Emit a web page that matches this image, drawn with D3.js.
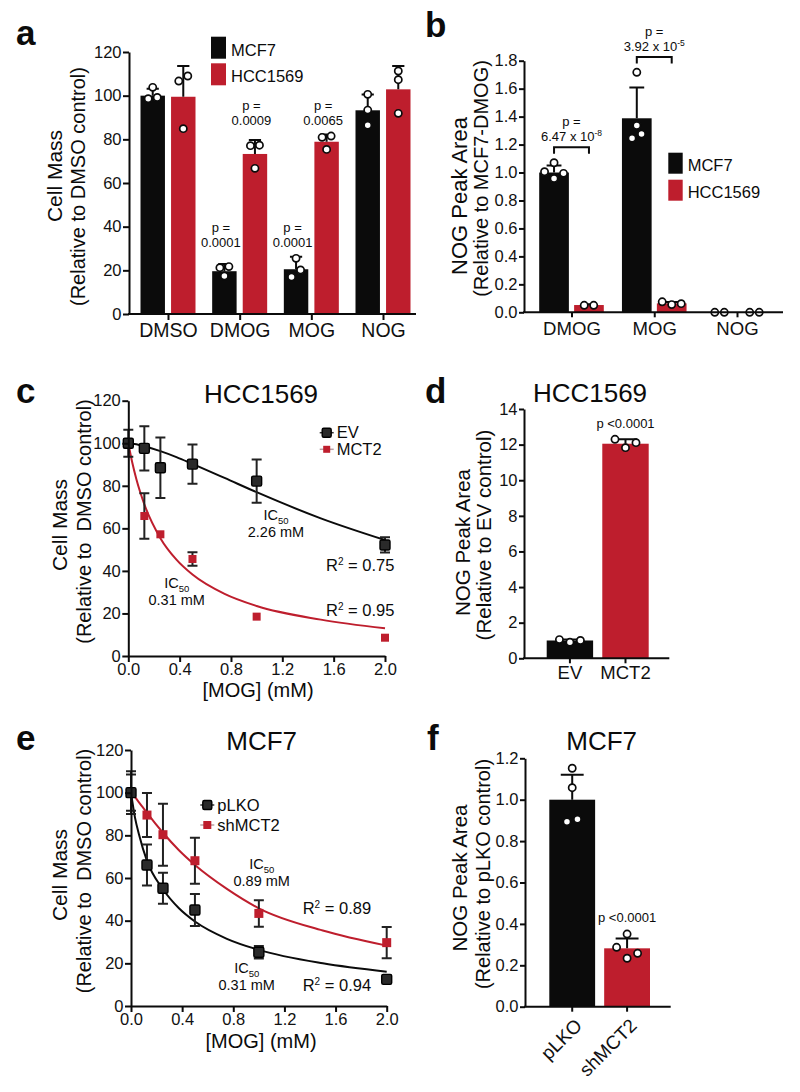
<!DOCTYPE html>
<html>
<head>
<meta charset="utf-8">
<script src="https://cdn.jsdelivr.net/npm/d3@7"></script>
<style>
body { margin: 0; background: #fff; }
svg text { font-family: "Liberation Sans", Arial, Helvetica, sans-serif; }
</style>
</head>
<body>
<div id="figure"></div>
<script>
// ---------- values ----------

// panel a: cell mass after 2-oxoglutarate ester treatment
var treatmentsA = ["DMSO", "DMOG", "MOG", "NOG"];
var cellLines = ["MCF7", "HCC1569"];
var massMCF7 = [100, 19.6, 20.5, 93.3];
var massHCC = [99.5, 73.3, 78.9, 102.9];
var sdMassMCF7 = [3.2, 3.3, 5.7, 7.2];
var sdMassHCC = [14.1, 6.4, 3.3, 10.7];
var dotsMassMCF7 = [[103.8, 98.6, 99.2], [17.4, 21.7, 21.2], [16.9, 25.5, 20.2], [100.6, 93.4, 86.4]];
var dotsMassHCC = [[109, 106.7, 84.9], [77.3, 77.1, 66.7], [81.5, 80.9, 75.4], [111.3, 107.3, 91.9]];
var pMassMCF7 = ["", "0.0001", "0.0001", ""];
var pMassHCC = ["", "0.0009", "0.0065", ""];
var massTicks = [0, 20, 40, 60, 80, 100, 120];

// panel b: intracellular NOG
var compoundsB = ["DMOG", "MOG", "NOG"];
var nogMCF7 = [1.0, 1.388, 0];
var nogHCC = [0.052, 0.064, 0];
var sdNogMCF7 = [0.05, 0.22, 0];
var sdNogHCC = [0.006, 0.01, 0];
var dotsNogMCF7 = [[1.006, 1.07, 0.958, 0.994], [1.245, 1.717, 1.337, 1.275], [0, 0]];
var dotsNogHCC = [[0.05, 0.05], [0.055, 0.075, 0.062], [0, 0]];
var pMantissaB = ["6.47", "3.92", ""];
var pExponentB = ["-8", "-5", ""];
var nogTicksB = [0, 0.2, 0.4, 0.6, 0.8, 1.0, 1.2, 1.4, 1.6, 1.8];

// panels c and e: MOG dose response
var dosesMOG = [0, 0.125, 0.25, 0.5, 1.0, 2.0];
var doseTicks = [0, 0.4, 0.8, 1.2, 1.6, 2.0];
var fitDoses = [0, 0.03125, 0.0625, 0.125, 0.25, 0.375, 0.5, 0.75, 1.0, 1.5, 2.0];

var massEV = [100, 97.6, 88.5, 90.2, 82.2, 52.2];
var sdEV = [6.3, 10.4, 14.2, 9.2, 10.2, 3.6];
var fitEV = [100, 99.8, 99.5, 98.6, 96.3, 93.5, 90.3, 83.7, 77, 64.7, 54.5];
var massMCT2 = [100, 65.8, 57.2, 45.6, 18.5, 8.6];
var sdMCT2 = [0, 10.7, 0, 3.2, 0, 0];
var fitMCT2 = [100, 90.8, 83.2, 71.3, 55.4, 45.3, 38.3, 29.2, 23.5, 17.1, 13];

var massPLKO = [100, 66.1, 55.2, 45, 25.2, 12.5];
var sdPLKO = [10, 9.6, 7.3, 7.5, 2.9, 0];
var fitPLKO = [100, 88.3, 80.4, 68, 54.7, 45.8, 39.6, 31.5, 26.3, 20, 16.1];
var massShMCT2 = [100, 89.5, 80.3, 68.1, 43.4, 29.7];
var sdShMCT2 = [8.5, 10.3, 14.5, 10.8, 6.2, 7.3];
var fitShMCT2 = [100, 97.9, 95.5, 90.5, 81.2, 73, 66.1, 54.9, 45.8, 35.4, 28.3];

// panel d: NOG after MCT2 overexpression
var vectorsD = ["EV", "MCT2"];
var nogD = [1.0, 12.05];
var sdNogD = [0.06, 0.25];
var dotsNogD = [[1.05, 0.9, 1.0], [12.3, 11.83, 12.11]];
var nogTicksD = [0, 2, 4, 6, 8, 10, 12, 14];

// panel f: NOG after MCT2 knockdown
var shRNAsF = ["pLKO", "shMCT2"];
var nogF = [1.0, 0.282];
var sdNogF = [0.12, 0.048];
var dotsNogF = [[1.152, 1.058, 0.894, 0.906], [0.351, 0.287, 0.234, 0.258]];
var nogTicksF = [0, 0.2, 0.4, 0.6, 0.8, 1.0, 1.2];

// ---------- drawing ----------
var RED = "#be1e2d";
var INK = "#0b0b0b";
var FONT = "'Liberation Sans', Arial, Helvetica, sans-serif";
var TICK_FONT = 16.5;

var svg = d3.select("#figure")
    .append("svg")
    .attr("width", 800)
    .attr("height", 1092)
    .attr("font-family", FONT);

function addText(g, x, y, str, size, anchor) {
    return g.append("text")
        .attr("x", x)
        .attr("y", y)
        .attr("font-size", size)
        .attr("text-anchor", anchor || "middle")
        .attr("fill", INK)
        .text(str);
}

function panelLabel(x, y, letter) {
    addText(svg, x, y, letter, 35, "start").attr("font-weight", "bold");
}

function styleAxis(ax, size) {
    ax.attr("font-family", FONT).attr("font-size", size);
    ax.select(".domain").attr("stroke", INK).attr("stroke-width", 2);
    ax.selectAll(".tick line").attr("stroke", INK).attr("stroke-width", 2);
    ax.selectAll(".tick text").attr("fill", "#111");
}

function leftAxis(y, x, ticks, fmt, len) {
    var ax = svg.append("g")
        .attr("transform", "translate(" + x + ",0)")
        .call(d3.axisLeft(y).tickValues(ticks).tickFormat(fmt)
            .tickSize(len).tickPadding(1.5).tickSizeOuter(0));
    styleAxis(ax, TICK_FONT);
}

// x axis for the bar panels: plain base line plus category ticks
function categoryAxis(x, from, to, yPos, len, size, pad) {
    svg.append("line")
        .attr("x1", from - 1).attr("x2", to)
        .attr("y1", yPos).attr("y2", yPos)
        .attr("stroke", INK).attr("stroke-width", 2);
    var ax = svg.append("g")
        .attr("transform", "translate(0," + yPos + ")")
        .call(d3.axisBottom(x).tickSize(len).tickPadding(pad).tickSizeOuter(0));
    ax.select(".domain").remove();
    styleAxis(ax, size);
    return ax;
}

// two-line rotated axis title, each line given by baseline x and centre y
function yTitle(lines) {
    lines.forEach(function(l) {
        svg.append("text")
            .attr("transform", "translate(" + l.x + "," + l.y + ") rotate(-90)")
            .attr("text-anchor", "middle")
            .attr("font-size", l.size)
            .attr("fill", INK)
            .style("white-space", "pre")
            .text(l.text);
    });
}

// GraphPad-like scatter: dots closer than a diameter are spread sideways
function swarm(values, y, spacing) {
    var order = values.map(function(v, i) { return i; })
        .sort(function(a, b) { return values[a] - values[b]; });
    var offsets = values.map(function() { return 0; });
    var patterns = { 1: [0], 2: [-0.5, 0.5], 3: [0, 1, -1], 4: [-0.5, 0.5, -1.5, 1.5] };
    var cluster = [];

    function flush() {
        var p = patterns[cluster.length];
        cluster.forEach(function(idx, k) { offsets[idx] = p[k] * spacing; });
        cluster = [];
    }

    order.forEach(function(idx) {
        var last = cluster[cluster.length - 1];
        if (cluster.length && Math.abs(y(values[idx]) - y(values[last])) >= 8) flush();
        cluster.push(idx);
    });
    flush();
    return offsets;
}

function drawBars(bars, y, spacing) {
    bars.forEach(function(b) {
        svg.append("rect")
            .attr("x", b.cx - b.w / 2)
            .attr("y", y(b.value))
            .attr("width", b.w)
            .attr("height", y(0) - y(b.value))
            .attr("fill", b.color);
    });

    bars.forEach(function(b) {
        if (!b.sd) return;
        var top = y(b.value + b.sd);
        svg.append("path")
            .attr("d", "M" + b.cx + "," + y(b.value) + "V" + top +
                "M" + (b.cx - b.w / 4) + "," + top + "H" + (b.cx + b.w / 4))
            .attr("stroke", INK)
            .attr("stroke-width", 2)
            .attr("fill", "none");
    });

    bars.forEach(function(b) {
        var offsets = swarm(b.dots, y, spacing);
        svg.selectAll(null)
            .data(b.dots)
            .enter().append("circle")
            .attr("cx", function(d, i) { return b.cx + offsets[i]; })
            .attr("cy", function(d) { return y(d); })
            .attr("r", 3.6)
            .attr("fill", "#fff")
            .attr("stroke", INK)
            .attr("stroke-width", 1.7);
    });
}

function boxLegend(x, y, rowH, boxW, boxH, size) {
    [INK, RED].forEach(function(c, i) {
        svg.append("rect")
            .attr("x", x).attr("y", y + i * rowH)
            .attr("width", boxW).attr("height", boxH)
            .attr("fill", c);
        addText(svg, x + boxW + 5, y + i * rowH + boxH - 3, cellLines[i], size, "start");
    });
}

function marker(g, cx, cy, s) {
    g.append("rect")
        .attr("x", cx - s.size / 2)
        .attr("y", cy - s.size / 2)
        .attr("width", s.size)
        .attr("height", s.size)
        .attr("rx", s.dark ? 1.5 : 0)
        .attr("fill", s.dark ? "#2a2a2a" : RED)
        .attr("stroke", s.dark ? "#000" : "none")
        .attr("stroke-width", 1.4);
}

function drawDose(x, y, series) {
    var fitLine = d3.line()
        .x(function(d) { return x(d[0]); })
        .y(function(d) { return y(d[1]); })
        .curve(d3.curveMonotoneX);

    series.forEach(function(s) {
        svg.append("path")
            .datum(d3.zip(fitDoses, s.fit))
            .attr("d", fitLine)
            .attr("fill", "none")
            .attr("stroke", s.dark ? INK : RED)
            .attr("stroke-width", 2);
    });

    series.forEach(function(s) {
        s.mean.forEach(function(m, i) {
            if (!s.sd[i]) return;
            var cx = x(dosesMOG[i]), y1 = y(m + s.sd[i]), y2 = y(m - s.sd[i]);
            svg.append("path")
                .attr("d", "M" + (cx - 5) + "," + y1 + "H" + (cx + 5) +
                    "M" + cx + "," + y1 + "V" + y2 +
                    "M" + (cx - 5) + "," + y2 + "H" + (cx + 5))
                .attr("stroke", "#222")
                .attr("stroke-width", 2)
                .attr("fill", "none");
        });
    });

    series.forEach(function(s) {
        s.mean.forEach(function(m, i) { marker(svg, x(dosesMOG[i]), y(m), s); });
    });
}

function markerLegend(x, y, rowH, series, size) {
    series.forEach(function(s, i) {
        var cy = y + i * rowH;
        svg.append("line")
            .attr("x1", x - 7).attr("x2", x + 7)
            .attr("y1", cy).attr("y2", cy)
            .attr("stroke", s.dark ? "#333" : "#b9a0a3")
            .attr("stroke-width", 1.5);
        marker(svg, x, cy, { size: s.size - 1, dark: s.dark });
        addText(svg, x + 10, cy + 5.5, s.name, size, "start");
    });
}

function ic50Label(cx, by, value) {
    var t = svg.append("text")
        .attr("x", cx).attr("y", by)
        .attr("text-anchor", "middle")
        .attr("font-size", 14.5)
        .attr("fill", INK);
    t.append("tspan").text("IC");
    t.append("tspan").attr("dy", 4).attr("font-size", 9.5).text("50");
    addText(svg, cx, by + 17, value + " mM", 14.5);
}

function r2Label(x, by, value) {
    var t = svg.append("text")
        .attr("x", x).attr("y", by)
        .attr("font-size", 16.5)
        .attr("fill", INK);
    t.append("tspan").text("R");
    t.append("tspan").attr("dy", -6).attr("font-size", 10).text("2");
    t.append("tspan").attr("dy", 6).text(" = " + value);
}

// ===== panel a =====
var yA = d3.scaleLinear().domain([0, 120]).range([314, 52]);
var x0A = d3.scalePoint().domain(treatmentsA).range([168, 383]);
var x1A = d3.scaleBand().domain(cellLines).range([-27.5, 27.5]).paddingInner(0.2);

var barsA = [];
treatmentsA.forEach(function(t, i) {
    barsA.push({ cx: x0A(t) + x1A("MCF7") + x1A.bandwidth() / 2, w: x1A.bandwidth(),
        value: massMCF7[i], sd: sdMassMCF7[i], dots: dotsMassMCF7[i], color: INK });
    barsA.push({ cx: x0A(t) + x1A("HCC1569") + x1A.bandwidth() / 2, w: x1A.bandwidth(),
        value: massHCC[i], sd: sdMassHCC[i], dots: dotsMassHCC[i], color: RED });
});
drawBars(barsA, yA, 9);
leftAxis(yA, 129, massTicks, d3.format("d"), 6);
categoryAxis(x0A, 129, 416, 314, 6, 19.5, 3);
boxLegend(211, 36.7, 26.6, 15, 22, 16.5);

// p values sit at a common level per cell line, a little left of the bar centre
[[pMassMCF7, massMCF7, sdMassMCF7, dotsMassMCF7, "MCF7"],
 [pMassHCC, massHCC, sdMassHCC, dotsMassHCC, "HCC1569"]].forEach(function(s) {
    var level = d3.max(treatmentsA, function(t, i) {
        return s[0][i] ? Math.max(s[1][i] + s[2][i], d3.max(s[3][i])) : 0;
    });
    var base = yA(level) - 10;
    treatmentsA.forEach(function(t, i) {
        if (!s[0][i]) return;
        var cx = x0A(t) + x1A(s[4]) + x1A.bandwidth() / 2 - 3.5;
        addText(svg, cx, base - 15, "p =", 13);
        addText(svg, cx, base, s[0][i], 13);
    });
});

yTitle([
    { text: "Cell Mass", x: 61.5, y: 176, size: 21 },
    { text: "(Relative to DMSO control)", x: 84.5, y: 186.5, size: 20 }
]);
panelLabel(16, 45, "a");

// ===== panel b =====
var yB = d3.scaleLinear().domain([0, 1.8]).range([312.3, 60.7]);
var x0B = d3.scalePoint().domain(compoundsB).range([571.5, 737]);
var x1B = d3.scaleBand().domain(cellLines).range([-32.3, 32.3]).paddingInner(0.15);

var barsB = [];
compoundsB.forEach(function(c, i) {
    barsB.push({ cx: x0B(c) + x1B("MCF7") + x1B.bandwidth() / 2, w: x1B.bandwidth(),
        value: nogMCF7[i], sd: sdNogMCF7[i], dots: dotsNogMCF7[i], color: INK });
    barsB.push({ cx: x0B(c) + x1B("HCC1569") + x1B.bandwidth() / 2, w: x1B.bandwidth(),
        value: nogHCC[i], sd: sdNogHCC[i], dots: dotsNogHCC[i], color: RED });
});
drawBars(barsB, yB, 9.5);
leftAxis(yB, 524, nogTicksB, d3.format(".1f"), 5);
categoryAxis(x0B, 524, 783, 312.3, 5, 18.6, 4.5);
boxLegend(668.3, 152.7, 27, 14.4, 21, 16.5);

// significance brackets MCF7 vs HCC1569
compoundsB.forEach(function(c, i) {
    if (!pMantissaB[i]) return;
    var xa = x0B(c) + x1B("MCF7") + x1B.bandwidth() / 2;
    var xb = x0B(c) + x1B("HCC1569") + x1B.bandwidth() / 2;
    var top = yB(Math.max(nogMCF7[i] + sdNogMCF7[i], d3.max(dotsNogMCF7[i])) + 0.11);
    svg.append("path")
        .attr("d", "M" + xa + "," + (top + 6.5) + "V" + top + "H" + xb + "V" + (top + 6.5))
        .attr("fill", "none")
        .attr("stroke", INK)
        .attr("stroke-width", 2);
    var cx = (xa + xb) / 2;
    addText(svg, cx, top - 21, "p =", 13);
    var t = addText(svg, cx, top - 6, pMantissaB[i] + " x 10", 13);
    t.append("tspan").attr("dy", -5).attr("font-size", 8.5).text(pExponentB[i]);
});

yTitle([
    { text: "NOG Peak Area", x: 466.5, y: 196, size: 22 },
    { text: "(Relative to MCF7-DMOG)", x: 488, y: 178.5, size: 20 }
]);
panelLabel(425, 36.7, "b");

// ===== panel c =====
var xC = d3.scaleLinear().domain([0, 2]).range([128.3, 385]);
var yC = d3.scaleLinear().domain([0, 120]).range([656, 400.7]);
var seriesC = [
    { name: "MCT2", mean: massMCT2, sd: sdMCT2, fit: fitMCT2, dark: false, size: 8 },
    { name: "EV", mean: massEV, sd: sdEV, fit: fitEV, dark: true, size: 10 }
];
drawDose(xC, yC, seriesC);
leftAxis(yC, 128.3, massTicks, d3.format("d"), 6);
var axC = svg.append("g")
    .attr("transform", "translate(0,656)")
    .call(d3.axisBottom(xC).tickValues(doseTicks).tickFormat(d3.format(".1f"))
        .tickSize(6).tickPadding(1.6).tickSizeOuter(0));
styleAxis(axC, TICK_FONT);

addText(svg, 261, 403, "HCC1569", 26);
markerLegend(326.7, 432.7, 16.6, [seriesC[1], seriesC[0]], 16.5);
ic50Label(276, 520, "2.26");
ic50Label(176.7, 588.3, "0.31");
r2Label(326, 571, "0.75");
r2Label(326, 616, "0.95");
addText(svg, 258, 697, "[MOG] (mM)", 20);
yTitle([
    { text: "Cell Mass", x: 66.5, y: 525, size: 21 },
    { text: "(Relative to  DMSO control)", x: 91, y: 521.5, size: 20 }
]);
panelLabel(16, 403.3, "c");

// ===== panel d =====
var yD = d3.scaleLinear().domain([0, 14]).range([658.3, 409]);
var xD = d3.scaleBand().domain(vectorsD).range([546.7, 648.7]).paddingInner(0.165);
drawBars(vectorsD.map(function(v, i) {
    return { cx: xD(v) + xD.bandwidth() / 2, w: xD.bandwidth(), value: nogD[i],
        sd: sdNogD[i], dots: dotsNogD[i], color: i ? RED : INK };
}), yD, 10.5);
leftAxis(yD, 524, nogTicksD, d3.format("d"), 5);
categoryAxis(xD, 524, 669.3, 658.3, 5, 18.5, 3);
addText(svg, xD("MCT2") + xD.bandwidth() / 2,
    yD(Math.max(nogD[1] + sdNogD[1], d3.max(dotsNogD[1]))) - 11, "p <0.0001", 13);
addText(svg, 590, 401.7, "HCC1569", 26);
yTitle([
    { text: "NOG Peak Area", x: 470, y: 542.5, size: 20.5 },
    { text: "(Relative to EV control)", x: 491, y: 535, size: 20.5 }
]);
panelLabel(425, 402.7, "d");

// ===== panel e =====
var xE = d3.scaleLinear().domain([0, 2]).range([131, 386.7]);
var yE = d3.scaleLinear().domain([0, 120]).range([1006, 750]);
var seriesE = [
    { name: "shMCT2", mean: massShMCT2, sd: sdShMCT2, fit: fitShMCT2, dark: false, size: 9 },
    { name: "pLKO", mean: massPLKO, sd: sdPLKO, fit: fitPLKO, dark: true, size: 10 }
];
drawDose(xE, yE, seriesE);
leftAxis(yE, 131, massTicks, d3.format("d"), 6);
var axE = svg.append("g")
    .attr("transform", "translate(0,1006)")
    .call(d3.axisBottom(xE).tickValues(doseTicks).tickFormat(d3.format(".1f"))
        .tickSize(6).tickPadding(1.6).tickSizeOuter(0));
styleAxis(axE, TICK_FONT);

addText(svg, 261.7, 750, "MCF7", 26);
markerLegend(207.3, 805, 20, [seriesE[1], seriesE[0]], 16.5);
ic50Label(261.7, 869.3, "0.89");
ic50Label(246.7, 973.3, "0.31");
r2Label(302.7, 914, "0.89");
r2Label(302.7, 991, "0.94");
addText(svg, 261, 1047.5, "[MOG] (mM)", 20);
yTitle([
    { text: "Cell Mass", x: 66.5, y: 875, size: 21 },
    { text: "(Relative to  DMSO control)", x: 91, y: 871, size: 20 }
]);
panelLabel(16, 750, "e");

// ===== panel f =====
var yF = d3.scaleLinear().domain([0, 1.2]).range([1006.7, 758.3]);
var xF = d3.scaleBand().domain(shRNAsF).range([549.3, 650]).paddingInner(0.165);
drawBars(shRNAsF.map(function(v, i) {
    return { cx: xF(v) + xF.bandwidth() / 2, w: xF.bandwidth(), value: nogF[i],
        sd: sdNogF[i], dots: dotsNogF[i], color: i ? RED : INK };
}), yF, 10.5);
leftAxis(yF, 525, nogTicksF, d3.format(".1f"), 5);
var axF = categoryAxis(xF, 525, 670.7, 1006.7, 5, 19, 3);
axF.selectAll(".tick text")
    .attr("text-anchor", "end")
    .attr("dy", null)
    .attr("x", 11)
    .attr("y", 20)
    .attr("transform", "rotate(-45 11 20)");
addText(svg, xF("shMCT2") + xF.bandwidth() / 2,
    yF(Math.max(nogF[1] + sdNogF[1], d3.max(dotsNogF[1]))) - 12, "p <0.0001", 13);
addText(svg, 601.7, 750, "MCF7", 26);
yTitle([
    { text: "NOG Peak Area", x: 466.7, y: 878, size: 20.5 },
    { text: "(Relative to pLKO control)", x: 490, y: 874, size: 20 }
]);
panelLabel(427, 750, "f");
</script>
</body>
</html>
